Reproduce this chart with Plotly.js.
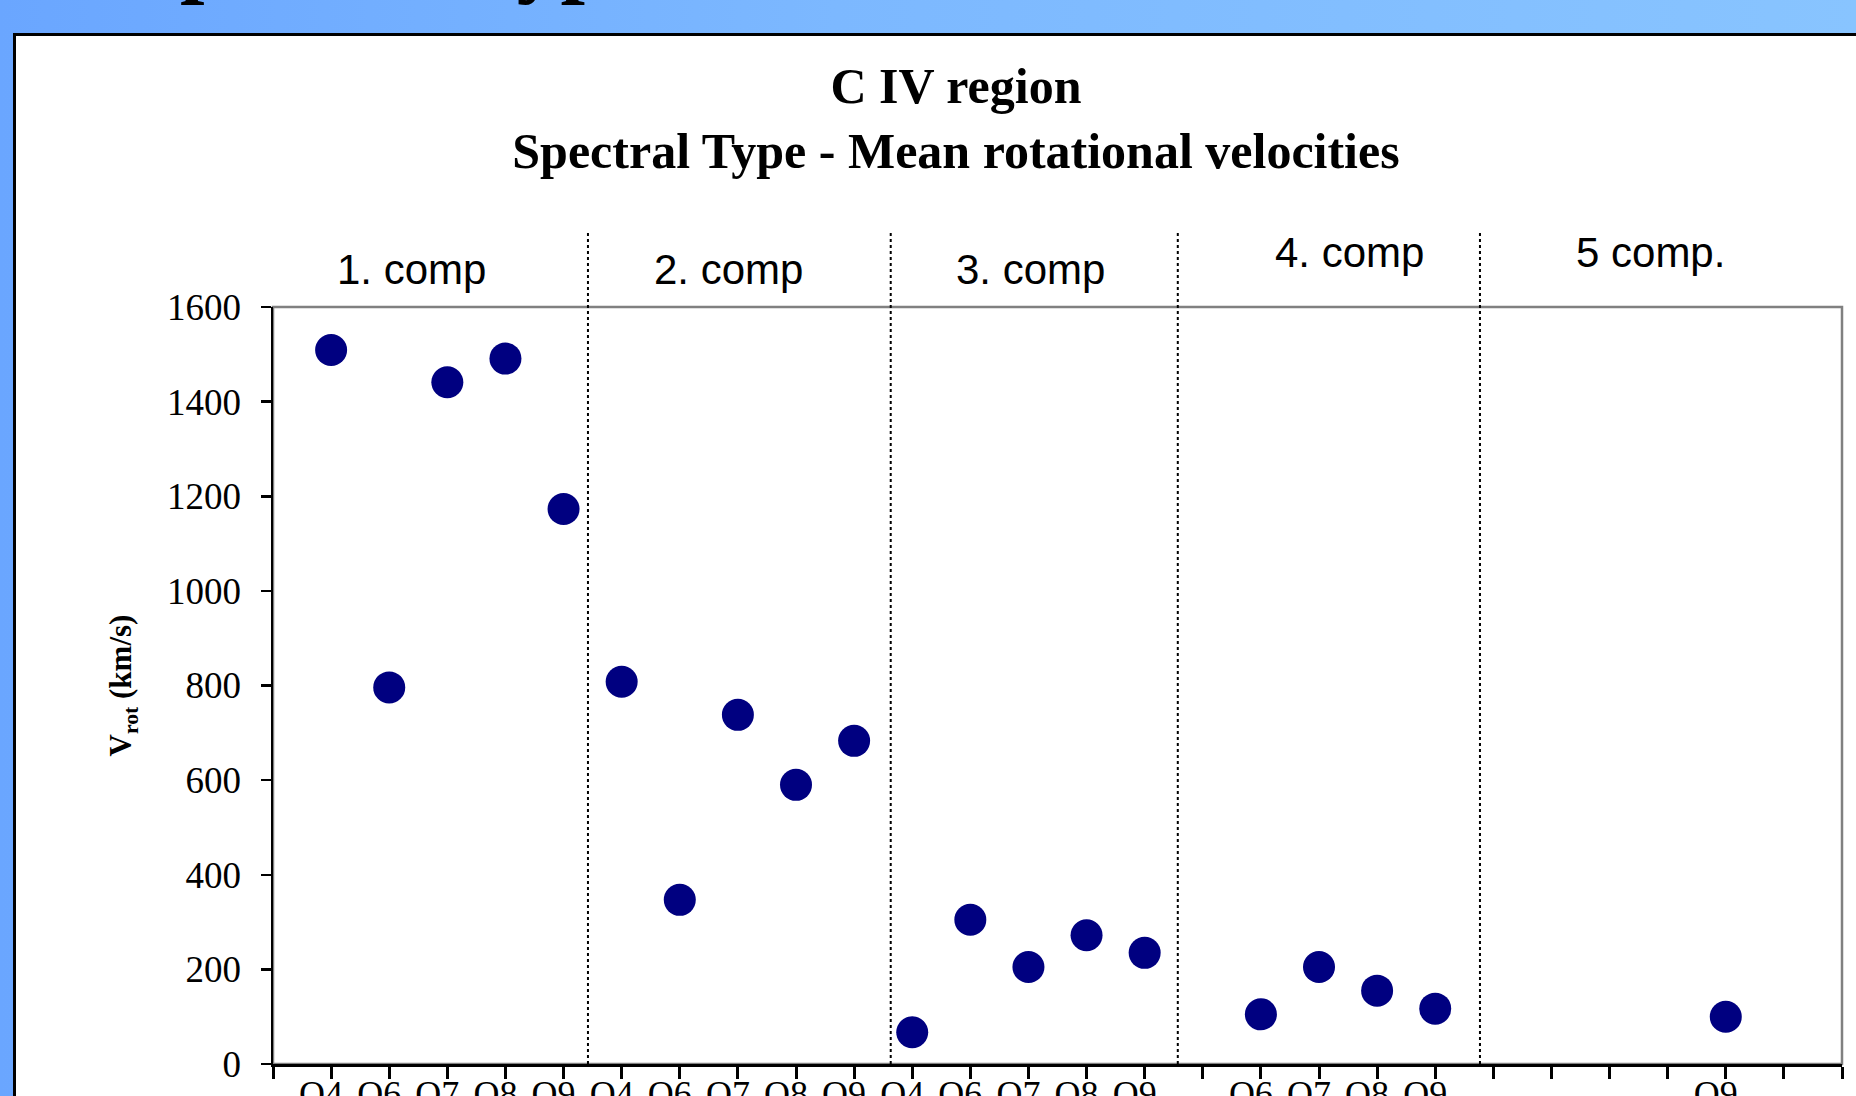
<!DOCTYPE html>
<html>
<head>
<meta charset="utf-8">
<script src="https://cdn.plot.ly/plotly-3.0.1.min.js"></script>
<style>
  html, body { margin: 0; padding: 0; overflow: hidden; }
  body { width: 1856px; height: 1096px;
         background: linear-gradient(to right, #6aa6ff 0%, #7cb8ff 45%, #88c4ff 100%); }
  #chart { width: 1856px; height: 1130px; }
</style>
</head>
<body>
<div id="chart"></div>
<script>
// ---- data ----
const slotLabels = ["O4","O6","O7","O8","O9",
                    "O4","O6","O7","O8","O9",
                    "O4","O6","O7","O8","O9",
                    "","O6","O7","O8","O9",
                    "","","","","O9",""];
const vrot = [1509, 796, 1441, 1491, 1173,
              808, 347, 738, 590, 683,
              67, 305, 205, 272, 235,
              null, 105, 205, 155, 117,
              null, null, null, null, 100, null];
const compNames = ["1. comp", "2. comp", "3. comp", "4. comp", "5 comp."];
const yTicks = [0, 200, 400, 600, 800, 1000, 1200, 1400, 1600];
const chartTitle = "C IV region<br>Spectral Type - Mean rotational velocities";
const yTitle = "V<sub>rot</sub> (km/s)";
const slideHeading = "Spectral Type";

// ---- layout constants ----
const W = 1856, H = 1130;
const M = {l: 273, r: 14, t: 307, b: 66};
const PW = W - M.l - M.r, PH = H - M.t - M.b;
const nSlots = slotLabels.length + 1;      // axis spans 0..27
const px2x = p => (p - M.l) / PW;
const py2y = p => (M.t + PH - p) / PH;
const sepPos = [5.42, 10.63, 15.57, 20.77];
const compLabelPos = [2.39, 7.83, 13.04, 18.53, 23.70];
const compLabelY = [270, 270, 270, 252, 252];

const xs = slotLabels.map((_, i) => i + 1);
const tickVals = Array.from({length: nSlots + 1}, (_, i) => i);
const tickText = [" ", ...slotLabels.map(s => s || " "), " "];

const trace = {
  type: "scatter", mode: "markers",
  x: xs, y: vrot,
  marker: {color: "#000080", size: 32, line: {width: 0}},
  hoverinfo: "x+y", showlegend: false
};

const shapes = [
  // slide frame
  {type: "rect", xref: "paper", yref: "paper",
   x0: px2x(14.5), x1: px2x(1950), y0: py2y(1300), y1: py2y(34.5),
   fillcolor: "#ffffff", line: {color: "#000000", width: 3}, layer: "below"},
  // plot-area border
  {type: "rect", xref: "paper", yref: "paper", x0: 0, x1: 1, y0: 0, y1: 1,
   fillcolor: "rgba(0,0,0,0)", line: {color: "#808080", width: 2.5}, layer: "below"},
];
sepPos.forEach(p => shapes.push({
  type: "line", xref: "paper", yref: "paper",
  x0: p / nSlots, x1: p / nSlots, y0: 0, y1: py2y(232),
  line: {color: "#000000", width: 2, dash: "dot"}, layer: "above"
}));

const annotations = compNames.map((t, i) => ({
  text: t, xref: "x", yref: "paper", x: compLabelPos[i], y: py2y(compLabelY[i]),
  xanchor: "center", yanchor: "middle", showarrow: false,
  font: {family: "Liberation Sans, Arial, sans-serif", size: 42, color: "#000000"}
}));
annotations.push({
  text: "<b>" + slideHeading + "</b>", xref: "paper", yref: "paper",
  x: px2x(129), y: py2y(7), xanchor: "left", yanchor: "bottom", showarrow: false,
  font: {family: "Liberation Serif, Times New Roman, serif", size: 88, color: "#000000"}
});

const layout = {
  width: W, height: H,
  margin: M,
  paper_bgcolor: "rgba(0,0,0,0)",
  plot_bgcolor: "rgba(0,0,0,0)",
  title: {
    text: "<b>" + chartTitle + "</b>",
    x: 956 / W, xanchor: "center", xref: "container",
    y: 1 - 103 / H, yanchor: "top", yref: "container",
    font: {family: "Liberation Serif, Times New Roman, serif", size: 50, color: "#000000"}
  },
  xaxis: {
    range: [0, nSlots], tickmode: "array", tickvals: tickVals, ticktext: tickText,
    showgrid: false, zeroline: false,
    showline: true, linecolor: "#000000", linewidth: 3,
    ticks: "outside", ticklen: 12, tickwidth: 3, tickcolor: "#000000",
    ticklabelshift: -10, ticklabelstandoff: -16,
    tickfont: {family: "Liberation Serif, Times New Roman, serif", size: 36, color: "#000000"},
    fixedrange: true
  },
  yaxis: {
    range: [0, 1600], tickmode: "array", tickvals: yTicks,
    showgrid: false, zeroline: false,
    showline: true, linecolor: "#000000", linewidth: 2.5,
    ticks: "outside", ticklen: 10, tickwidth: 2.5, tickcolor: "#000000",
    ticklabelstandoff: 12,
    tickfont: {family: "Liberation Serif, Times New Roman, serif", size: 37, color: "#000000"},
    title: {text: "<b>" + yTitle + "</b>", standoff: 26,
            font: {family: "Liberation Serif, Times New Roman, serif", size: 31, color: "#000000"}},
    fixedrange: true
  },
  shapes: shapes,
  annotations: annotations,
  showlegend: false
};

Plotly.newPlot("chart", [trace], layout, {displayModeBar: false, staticPlot: true});
</script>
</body>
</html>
